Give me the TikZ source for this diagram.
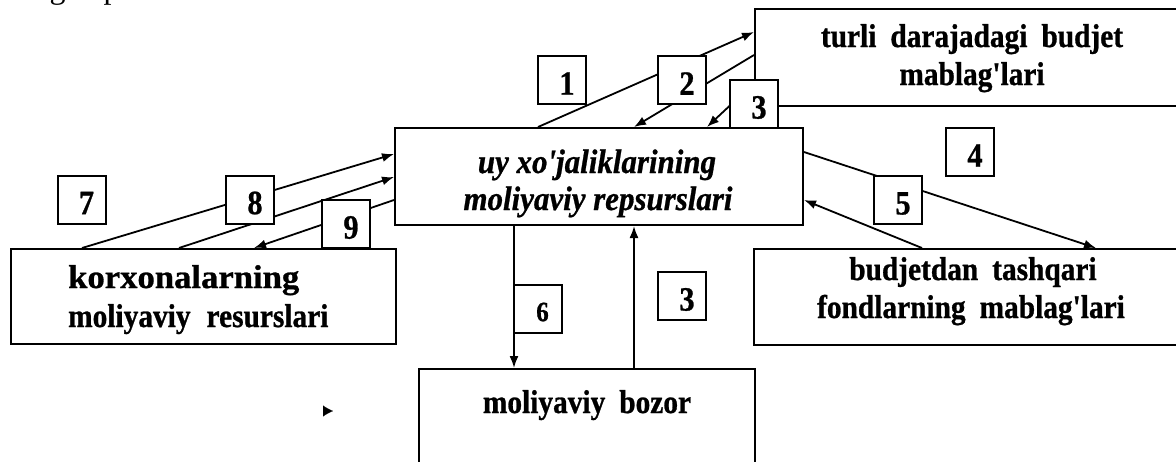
\documentclass[tikz,border=0pt]{standalone}
\usepackage{graphicx}
\usepackage{fontspec}
\setmainfont{Liberation Serif}[Ligatures=TeXOff]
\newfontfamily\boxfont{Liberation Serif}[Ligatures=TeXOff,FakeStretch=0.89,FakeBold=0.8]
\newfontfamily\italfont{Liberation Serif}[Ligatures=TeXOff,FakeStretch=0.91,FakeBold=0.8]
\usetikzlibrary{arrows.meta,calc}
\begin{document}
\begin{tikzpicture}[x=1pt,y=-1pt,
  bigbox/.style={draw, line width=2pt, fill=white, inner sep=0pt},
  numbox/.style={draw, line width=2pt, fill=white, minimum width=48pt, minimum height=48pt, inner sep=0pt},
  numtxt/.style={font=\boxfont\fontsize{34}{34}\selectfont\bfseries, inner sep=0pt},
  lbl/.style={font=\boxfont\fontsize{33}{38}\selectfont\bfseries, inner sep=0pt, anchor=base},
  ilbl/.style={font=\italfont\fontsize{34}{38}\selectfont\bfseries\itshape, inner sep=0pt, anchor=base},
  conn/.style={line width=1.8pt, -{Latex[length=12pt,width=9pt]}}
]
\useasboundingbox (0,0) rectangle (1176,461);

% partial text at the top edge
\node[anchor=base, inner sep=0pt, font=\fontsize{32}{32}\selectfont] (gp1) at (57.5,-2) {g};
\node[anchor=base, inner sep=0pt, font=\fontsize{32}{32}\selectfont] (gp2) at (111.5,-2) {p};

% main boxes
\node[bigbox, minimum width=408pt, minimum height=97pt] (C) at (599,176.5) {};
\node[bigbox, minimum width=435pt, minimum height=97pt] (TR) at (972.5,57.5) {};
\node[bigbox, minimum width=385pt, minimum height=95pt] (L) at (203.5,296.5) {};
\node[bigbox, minimum width=436pt, minimum height=96pt] (R) at (972,297) {};
\node[bigbox, minimum width=336pt, minimum height=97pt] (B) at (587,417.5) {};

% box texts
\node[ilbl] (c1) at (597,173) {uy xo'jaliklarining};
\node[ilbl] (c2) at (598,210) {moliyaviy repsurslari};
\node[lbl] (tr1) at (972,47) {turli\hspace{14pt}darajadagi\hspace{14pt}budjet};
\node[lbl] (tr2) at (972,85) {mablag'lari};
\node[lbl, anchor=base west] (l1) at (68,288) {\scalebox{1.18}[1]{korxonalarning}};
\node[lbl, anchor=base west] (l2) at (68,327) {moliyaviy\hspace{16pt}resurslari};
\node[lbl] (r1) at (973,280) {budjetdan\hspace{14pt}tashqari};
\node[lbl] (r2) at (971,318) {fondlarning\hspace{14pt}mablag'lari};
\node[lbl] (b1) at (587,413) {moliyaviy\hspace{14pt}bozor};

% connectors
\draw[conn] ([xshift=144pt]C.north west) -- ([yshift=-24pt]TR.north west);
\draw[conn] ([yshift=-47pt]TR.north west) -- ([xshift=240pt]C.north west);
\draw[conn] ([yshift=-75pt]TR.north west) -- ([xshift=313pt]C.north west);
\draw[conn] ([yshift=-25pt]C.north east) -- ([xshift=343pt]R.north west);
\draw[conn] ([xshift=169pt]R.north west) -- ([yshift=-73pt]C.north east);
\draw[conn] ([xshift=72pt]L.north west) -- ([yshift=-27pt]C.north west);
\draw[conn] ([xshift=169pt]L.north west) -- ([yshift=-50pt]C.north west);
\draw[conn] ([yshift=-73pt]C.north west) -- ([xshift=244pt]L.north west);
\draw[conn] ([xshift=120pt]C.south west) -- ([xshift=96pt]B.north west);
\draw[conn] ([xshift=216pt]B.north west) -- ([xshift=240pt]C.south west);

% stray arrowhead
\coordinate (s1) at (331,411);
\coordinate (s2) at (333,411);
\draw[line width=0.1pt, -{Latex[length=10pt,width=11pt]}] (s1) -- (s2);

% number boxes
\node[numbox] (n1) at (562,80) {};
\node[numbox] (n2) at (682,80) {};
\node[numbox] (n3a) at (754,104) {};
\node[numbox] (n4) at (970,152) {};
\node[numbox] (n5) at (898,200) {};
\node[numbox] (n7) at (81.5,199.5) {};
\node[numbox] (n8) at (250,199.5) {};
\node[numbox] (n9) at (346,224) {};
\node[numbox] (n6) at (537.5,308.5) {};
\node[numbox] (n3b) at (682,296) {};

\node[numtxt] (t1) at ($(n1.center)+(5,3.5)$) {1};
\node[numtxt] (t2) at ($(n2.center)+(5,3.5)$) {2};
\node[numtxt] (t3a) at ($(n3a.center)+(5,3.5)$) {3};
\node[numtxt] (t4) at ($(n4.center)+(5,3.5)$) {4};
\node[numtxt] (t5) at ($(n5.center)+(5,3.5)$) {5};
\node[numtxt] (t7) at ($(n7.center)+(5,3.5)$) {7};
\node[numtxt] (t8) at ($(n8.center)+(5,3.5)$) {8};
\node[numtxt] (t9) at ($(n9.center)+(5,3.5)$) {9};
\node[numtxt, font=\boxfont\fontsize{28}{28}\selectfont\bfseries] (t6) at ($(n6.center)+(5,3.5)$) {6};
\node[numtxt] (t3b) at ($(n3b.center)+(5,3.5)$) {3};
\end{tikzpicture}
\end{document}
